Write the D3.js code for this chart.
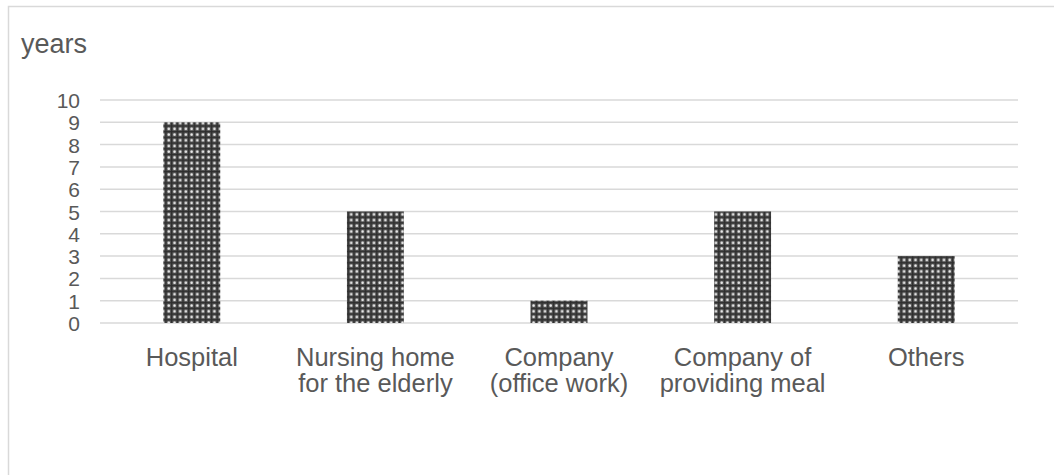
<!DOCTYPE html>
<html><head><meta charset="utf-8">
<script src="https://cdn.jsdelivr.net/npm/d3@7"></script>
<style>body{margin:0;background:#fff;} svg{display:block;font-family:"Liberation Sans",Arial,sans-serif;}</style>
</head><body>
<svg id="c" width="1054" height="475"></svg>
<script>
const categories = [["Hospital"],["Nursing home","for the elderly"],["Company","(office work)"],["Company of","providing meal"],["Others"]];
const values = [9,5,1,5,3];
const yTicks = [0,1,2,3,4,5,6,7,8,9,10];
const yTitle = "years";

(function(){
const svg = d3.select("#c");
const W=1054,H=475;
svg.append("rect").attr("width",W).attr("height",H).attr("fill","#fff");
svg.append("path").attr("d","M8.5,475 V6.5 H1054").attr("fill","none").attr("stroke","#d9d9d9").attr("stroke-width",1.5);

const defs = svg.append("defs");
const pat = defs.append("pattern").attr("id","dots").attr("patternUnits","userSpaceOnUse").attr("width",5.7).attr("height",5.7);
pat.append("rect").attr("width",5.7).attr("height",5.7).attr("fill","#555");
pat.append("rect").attr("x",0).attr("y",0).attr("width",5.7).attr("height",1.3).attr("fill","#2e2e2e");
pat.append("rect").attr("x",0).attr("y",0).attr("width",1.3).attr("height",5.7).attr("fill","#2e2e2e");
pat.append("circle").attr("cx",3.5).attr("cy",3.5).attr("r",1.3).attr("fill","#ececec");

const pl=100,pr=1018,pt=100,pb=323;
const x = d3.scaleBand().domain(d3.range(categories.length)).range([pl,pr]).paddingInner(0.69).paddingOuter(0.345);
const y = d3.scaleLinear().domain([0,10]).range([pb,pt]);

svg.append("g").selectAll("line").data(yTicks).join("line")
  .attr("x1",pl).attr("x2",pr).attr("y1",d=>y(d)).attr("y2",d=>y(d))
  .attr("stroke","#d9d9d9").attr("stroke-width",1.5);

svg.append("g").selectAll("rect").data(values).join("rect")
  .attr("x",(d,i)=>x(i)).attr("width",x.bandwidth())
  .attr("y",d=>y(d)).attr("height",d=>y(0)-y(d))
  .attr("fill","url(#dots)");

const yAxis = d3.axisLeft(y).tickValues(yTicks).tickSize(0).tickPadding(0).tickFormat(d3.format("d"));
const ga = svg.append("g").attr("transform","translate(80,0)").call(yAxis);
ga.select(".domain").remove();
ga.selectAll("text").attr("font-size",21).attr("fill","#595959").attr("font-family","Liberation Sans, Arial, sans-serif").attr("dy","0.36em");

const cg = svg.append("g");
categories.forEach((lines,i)=>{
  const t = cg.append("text").attr("x",x(i)+x.bandwidth()/2).attr("y",366)
    .attr("text-anchor","middle").attr("font-size",25.5).attr("fill","#595959");
  lines.forEach((l,j)=>t.append("tspan").attr("x",x(i)+x.bandwidth()/2).attr("dy",j?25.5:0).text(l));
});

svg.append("text").attr("x",21).attr("y",53).attr("font-size",27).attr("fill","#595959").text(yTitle);
})();
</script>
</body></html>
